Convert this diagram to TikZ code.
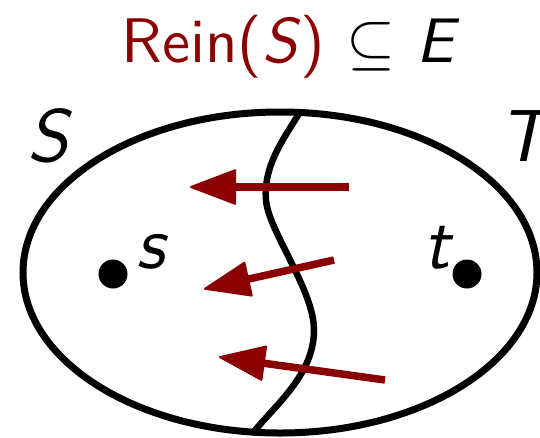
\documentclass[tikz,border=0pt]{standalone}
\usetikzlibrary{arrows.meta}
\usepackage{graphicx}
\definecolor{darkred}{RGB}{139,0,0}
\begin{document}
\begin{tikzpicture}[x=1pt,y=-1pt,
  outline/.style={line width=7pt,black},
  cut/.style={line width=6.5pt,black},
  edgearr/.style={line width=7.5pt,darkred,-{Triangle[length=48pt,width=36pt,line join=round,line width=2pt]}},
  dot/.style={circle,fill=black,minimum size=29pt,inner sep=0pt},
  lbl/.style={anchor=base,inner sep=0pt},
  ttl/.style={anchor=base,inner sep=0pt}]
\useasboundingbox (0,0) rectangle (540,437);
% title
\node[ttl] (title) at (290.5,62) {\scalebox{6.3}{\sffamily\textcolor{darkred}{Rein(\textsl{S})} $\subseteq$ \textsl{E}}};
% ellipse
\draw[outline] (280,272.5) ellipse [x radius=257, y radius=160.5];
% cut curve
\coordinate (ctop) at (300,112);
\coordinate (cbot) at (252,434);
\draw[cut] (ctop) .. controls (285,137) and (263,165) .. (266,200)
  .. controls (268,230) and (314,290) .. (314,330)
  .. controls (314,375) and (275,405) .. (cbot);
% labels
\node[lbl] (Slbl) at (48,161) {\scalebox{7.4}{\sffamily\slshape S}};
\node[lbl] (Tlbl) at (524,161) {\scalebox{7.4}{\sffamily\slshape T}};
\node[dot] (s) at (113,274) {};
\node[dot] (t) at (467,274) {};
\node[lbl] (slbl) at (151,268) {\scalebox{7.4}{\sffamily\slshape s}};
\node[lbl] (tlbl) at (437,268) {\scalebox{7.4}{\sffamily\slshape t}};
% arrows
\coordinate (a1) at (349,187); \coordinate (b1) at (190,187);
\coordinate (a2) at (334,260); \coordinate (b2) at (204,289);
\coordinate (a3) at (385,380); \coordinate (b3) at (219,357);
\draw[edgearr] (a1) -- (b1);
\draw[edgearr] (a2) -- (b2);
\draw[edgearr] (a3) -- (b3);
\end{tikzpicture}
\end{document}
